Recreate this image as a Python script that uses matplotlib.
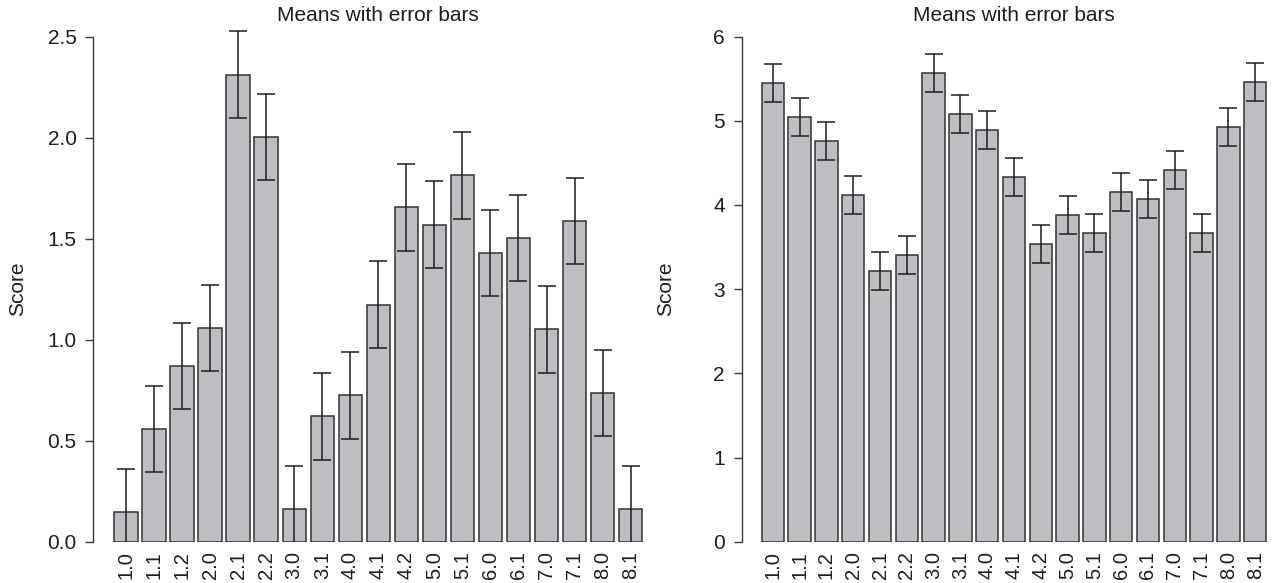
import matplotlib
matplotlib.use("Agg")
import matplotlib.pyplot as plt
import matplotlib.transforms as mtransforms
import numpy as np

# categories shared by both panels
groups = ["1.0", "1.1", "1.2", "2.0", "2.1", "2.2", "3.0", "3.1", "4.0", "4.1",
          "4.2", "5.0", "5.1", "6.0", "6.1", "7.0", "7.1", "8.0", "8.1"]

# left panel means and error half-widths
left_means = [0.145, 0.557, 0.870, 1.058, 2.312, 2.005, 0.160, 0.620, 0.724, 1.173,
              1.654, 1.569, 1.813, 1.429, 1.505, 1.051, 1.587, 0.735, 0.163]
left_err = [0.213, 0.213, 0.214, 0.214, 0.213, 0.213, 0.213, 0.214, 0.214, 0.214,
            0.213, 0.214, 0.214, 0.213, 0.213, 0.214, 0.214, 0.213, 0.213]
left_ticks = [0.0, 0.5, 1.0, 1.5, 2.0, 2.5]

# right panel means and error half-widths
right_means = [5.446, 5.047, 4.763, 4.117, 3.216, 3.405, 5.565, 5.079, 4.893, 4.335,
               3.536, 3.876, 3.671, 4.155, 4.066, 4.414, 3.663, 4.929, 5.458]
right_err = [0.227, 0.224, 0.226, 0.226, 0.223, 0.226, 0.226, 0.226, 0.225, 0.226,
             0.226, 0.226, 0.225, 0.226, 0.226, 0.226, 0.226, 0.226, 0.224]
right_ticks = [0, 1, 2, 3, 4, 5, 6]

plt.rcParams['font.family'] = ['Liberation Sans', 'DejaVu Sans']
ink = '#1e1e1e'
fill = '#bdbec2'

W, H = 1274, 583
fig = plt.figure(figsize=(W / 100, H / 100), dpi=100)

bottom = (H - 541.7) / H
height = (541.7 - 25) / H


def panel(x0_px, w_px, means, errs, ticks, ytop, tick_fmt):
    ax = fig.add_axes([x0_px / W, bottom, w_px / W, height])
    x = 0.7 + 1.2 * np.arange(len(groups))  # R barplot spacing
    ax.bar(x, means, width=1.0, color=fill, edgecolor='#333333', linewidth=1.1)
    ax.errorbar(x, means, yerr=errs, fmt='none', ecolor=ink, elinewidth=1.1,
                capsize=6.3, capthick=1.1)
    ax.set_xlim(-0.704, 23.704)
    ax.set_ylim(0, ytop)
    ax.set_xticks(x)
    ax.set_xticklabels(groups, rotation=90, fontsize=14.5, color=ink)
    ax.tick_params(axis='x', length=0, pad=7)
    ax.set_yticks(ticks)
    ax.set_yticklabels([tick_fmt.format(t) for t in ticks], fontsize=15, color=ink)
    ax.tick_params(axis='y', length=6, width=1.0, color='#3a3a3a', pad=6)
    for s in ['top', 'right', 'bottom']:
        ax.spines[s].set_visible(False)
    ax.spines['left'].set_bounds(ticks[0], ticks[-1])
    ax.spines['left'].set_color('#3a3a3a')
    ax.spines['left'].set_linewidth(1.0)
    ax.set_title('Means with error bars', fontsize=15, color=ink, pad=1)
    ax.set_ylabel('Score', fontsize=15, color=ink)
    tr = mtransforms.blended_transform_factory(ax.transAxes, ax.transData)
    ax.yaxis.set_label_coords(-66 / w_px, (ticks[0] + ticks[-1]) / 2, transform=tr)
    return ax


panel(93.2, 570.2, left_means, left_err, left_ticks, 2.557, '{:.1f}')
panel(741.5, 545.0, right_means, right_err, right_ticks, 6.137, '{:d}')

fig.savefig('out.png', dpi=100)
